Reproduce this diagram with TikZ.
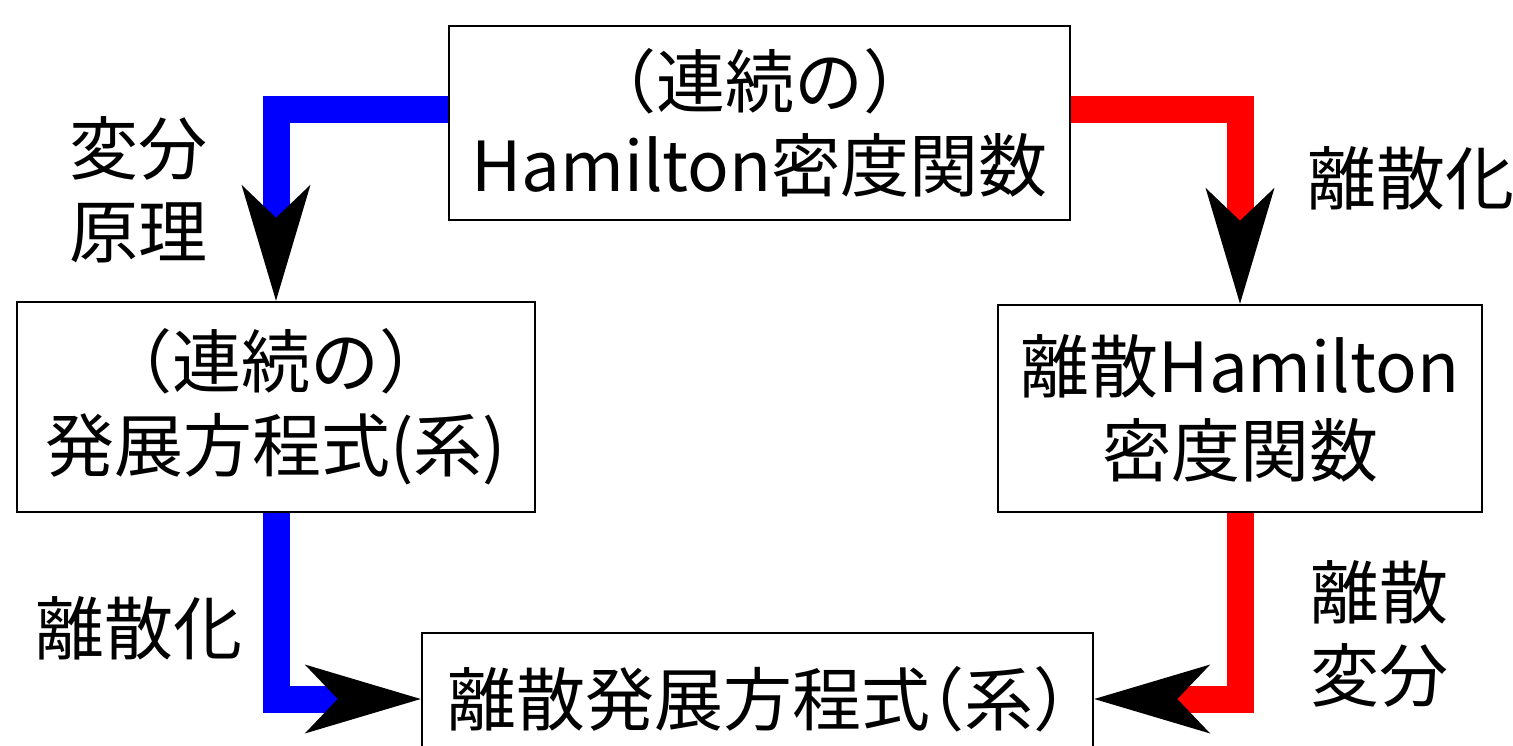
\documentclass[tikz,border=0pt]{standalone}
\usepackage{fontspec}
\setmainfont{Noto Sans CJK JP}
\newfontfamily\haltfont{Noto Sans CJK JP}[RawFeature=+halt]
\newcommand{\hparen}[1]{{\haltfont #1}}
\usetikzlibrary{calc}
\tikzset{
  box/.style={draw=black, line width=2.5pt, fill=white, inner sep=0pt, align=center, font=\fontsize{69}{84}\selectfont},
  lbl/.style={inner sep=0pt, align=center, font=\fontsize{69}{83}\selectfont},
  conn/.style={line width=27pt, line join=miter, line cap=butt},
  head/.style={fill=black},
}
\begin{document}
\begin{tikzpicture}[x=1pt,y=-1pt]
\clip (0,0) rectangle (1513,745);
\fill[white] (0,0) rectangle (1513,745);
% nodes
\node[box, minimum width=621pt, minimum height=194pt] (top) at (759.5,123) {（連続の）\\Hamilton密度関数};
\node[box, minimum width=518pt, minimum height=210pt] (left) at (276,407) {（連続の）\\発展方程式(系)};
\node[box, minimum width=484pt, minimum height=207pt] (right) at (1240,408.5) {離散Hamilton\\密度関数};
\node[box, minimum width=671pt, minimum height=132pt] (bottom) at (757.5,699) {離散発展方程式\hparen{（}系\hparen{）}};
% labels
\node[lbl] (l1) at (138,190) {変分\\原理};
\node[lbl] (l2) at (139,628) {離散化};
\node[lbl] (l3) at (1411,178) {離散化};
\node[lbl] (l4) at (1379,634) {離散\\変分};
% connectors
\draw[conn, blue] ($(top.west)+(0,-14)$) -| ($(left.north)+(0,-80)$);
\draw[conn, red] ($(top.east)+(0,-14)$) -| ($(right.north)+(0,-80)$);
\draw[conn, blue] (left.south) |- ($(bottom.west)+(-80,0)$);
\draw[conn, red] (right.south) |- ($(bottom.east)+(80,0)$);
% arrow heads
\fill[head] (left.north) -- ++(-34.5,-116) -- ++(34.5,33) -- ++(34.5,-33) -- cycle;
\fill[head] (right.north) -- ++(-34.5,-116) -- ++(34.5,33) -- ++(34.5,-33) -- cycle;
\fill[head] (bottom.west) -- ++(-116,-34.5) -- ++(33,34.5) -- ++(-33,34.5) -- cycle;
\fill[head] (bottom.east) -- ++(116,-34.5) -- ++(-33,34.5) -- ++(33,34.5) -- cycle;
\end{tikzpicture}
\end{document}
